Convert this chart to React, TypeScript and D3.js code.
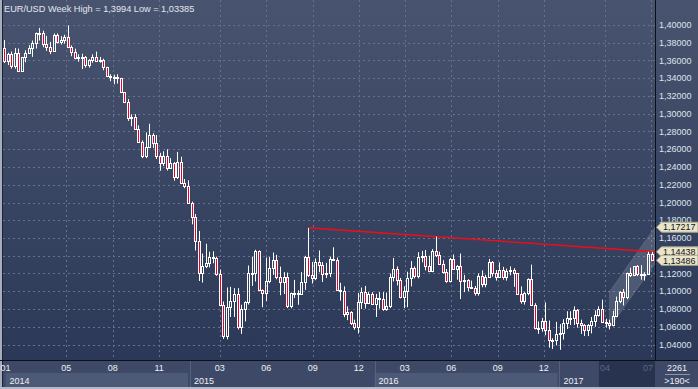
import * as d3 from 'd3'

// weekly EUR/USD candles, [open, high, low, close], first week starts 2013-12-30
const START = new Date(2013, 11, 30)

const candles2014 = [
  [1.3743, 1.383, 1.3573, 1.359], [1.359, 1.3687, 1.3549, 1.3669], [1.3669, 1.37, 1.3508, 1.3542],
  [1.3542, 1.374, 1.3508, 1.368], [1.368, 1.3735, 1.3478, 1.3486], [1.3486, 1.364, 1.3477, 1.3635],
  [1.3635, 1.3715, 1.358, 1.369], [1.369, 1.3773, 1.3685, 1.374], [1.374, 1.3825, 1.3641, 1.3802],
  [1.3802, 1.3915, 1.3735, 1.391], [1.391, 1.3967, 1.3825, 1.3913], [1.3913, 1.3936, 1.375, 1.3785],
  [1.3785, 1.3877, 1.3707, 1.375], [1.375, 1.381, 1.3672, 1.3705], [1.3705, 1.3905, 1.37, 1.3885],
  [1.3885, 1.3905, 1.3792, 1.381], [1.381, 1.3875, 1.378, 1.383], [1.383, 1.389, 1.379, 1.387],
  [1.387, 1.3994, 1.374, 1.3757], [1.3757, 1.377, 1.3648, 1.3695], [1.3695, 1.3733, 1.3614, 1.363],
  [1.363, 1.367, 1.3586, 1.3635], [1.3635, 1.3676, 1.3503, 1.364], [1.364, 1.365, 1.352, 1.3545],
  [1.3545, 1.3615, 1.352, 1.361], [1.361, 1.367, 1.3575, 1.3645], [1.3645, 1.37, 1.3593, 1.3595],
  [1.3595, 1.364, 1.3575, 1.3605], [1.3605, 1.362, 1.349, 1.3525], [1.3525, 1.353, 1.342, 1.343],
  [1.343, 1.3445, 1.3366, 1.3415], [1.3415, 1.344, 1.3333, 1.341], [1.341, 1.3445, 1.334, 1.34],
  [1.34, 1.34, 1.3235, 1.324], [1.324, 1.3245, 1.3125, 1.313], [1.313, 1.3165, 1.292, 1.295],
  [1.295, 1.2995, 1.286, 1.296], [1.296, 1.2995, 1.282, 1.283], [1.283, 1.287, 1.267, 1.2685],
  [1.2685, 1.27, 1.25, 1.2525], [1.2525, 1.279, 1.25, 1.2625], [1.2625, 1.2887, 1.2615, 1.276],
  [1.276, 1.278, 1.2615, 1.267], [1.267, 1.276, 1.249, 1.2525], [1.2525, 1.256, 1.2358, 1.245],
  [1.245, 1.2577, 1.241, 1.2525], [1.2525, 1.26, 1.236, 1.239], [1.239, 1.25, 1.239, 1.245],
  [1.245, 1.2455, 1.2245, 1.229], [1.229, 1.257, 1.2265, 1.246], [1.246, 1.2515, 1.2215, 1.2225],
  [1.2225, 1.2265, 1.216, 1.2185], [1.2185, 1.225, 1.1995, 1.2]
]

const candles2015 = [
  [1.2, 1.201, 1.1754, 1.184], [1.184, 1.187, 1.146, 1.1565], [1.1565, 1.168, 1.1115, 1.1205],
  [1.1205, 1.1425, 1.1098, 1.129], [1.129, 1.1535, 1.126, 1.1315], [1.1315, 1.1445, 1.127, 1.139],
  [1.139, 1.145, 1.1315, 1.138], [1.138, 1.139, 1.1175, 1.1195], [1.1195, 1.1245, 1.0838, 1.084],
  [1.084, 1.0885, 1.0462, 1.0495], [1.0495, 1.1043, 1.0458, 1.082], [1.082, 1.105, 1.071, 1.089],
  [1.089, 1.1035, 1.071, 1.097], [1.097, 1.1035, 1.057, 1.06], [1.06, 1.0848, 1.052, 1.0805],
  [1.0805, 1.0887, 1.066, 1.0875], [1.0875, 1.129, 1.085, 1.12], [1.12, 1.139, 1.106, 1.12],
  [1.12, 1.1467, 1.111, 1.145], [1.145, 1.146, 1.101, 1.1015], [1.1015, 1.102, 1.082, 1.0985],
  [1.0985, 1.138, 1.089, 1.111], [1.111, 1.1385, 1.109, 1.1265], [1.1265, 1.1436, 1.1185, 1.135],
  [1.135, 1.141, 1.1135, 1.1165], [1.1165, 1.1278, 1.0955, 1.1105], [1.1105, 1.1215, 1.0968, 1.116],
  [1.116, 1.121, 1.081, 1.083], [1.083, 1.0985, 1.0808, 1.0985], [1.0985, 1.1128, 1.0925, 1.0985],
  [1.0985, 1.101, 1.0848, 1.0965], [1.0965, 1.1215, 1.096, 1.1105], [1.1105, 1.14, 1.1015, 1.1385],
  [1.1385, 1.1714, 1.116, 1.118], [1.118, 1.133, 1.1087, 1.115], [1.115, 1.137, 1.1125, 1.1335],
  [1.1335, 1.146, 1.1215, 1.1295], [1.1295, 1.133, 1.1105, 1.1195], [1.1195, 1.132, 1.115, 1.121],
  [1.121, 1.139, 1.116, 1.136], [1.136, 1.1495, 1.134, 1.135], [1.135, 1.138, 1.101, 1.1015],
  [1.1015, 1.1095, 1.0895, 1.1005], [1.1005, 1.1055, 1.0708, 1.074], [1.074, 1.083, 1.0675, 1.077],
  [1.077, 1.0775, 1.062, 1.0645], [1.0645, 1.068, 1.0567, 1.0595], [1.0595, 1.0981, 1.0524, 1.088],
  [1.088, 1.1042, 1.08, 1.099], [1.099, 1.106, 1.0805, 1.0865], [1.0865, 1.099, 1.0855, 1.0965],
  [1.0965, 1.099, 1.0855, 1.086]
]

const candles2016 = [
  [1.086, 1.097, 1.071, 1.092], [1.092, 1.099, 1.0805, 1.0915], [1.0915, 1.099, 1.078, 1.0795],
  [1.0795, 1.0985, 1.078, 1.083], [1.083, 1.12, 1.081, 1.1155], [1.1155, 1.1375, 1.111, 1.1255],
  [1.1255, 1.128, 1.1065, 1.113], [1.113, 1.115, 1.092, 1.0935], [1.0935, 1.1055, 1.081, 1.1005],
  [1.1005, 1.122, 1.082, 1.115], [1.115, 1.134, 1.1055, 1.1265], [1.1265, 1.128, 1.1145, 1.117],
  [1.117, 1.144, 1.1145, 1.139], [1.139, 1.1455, 1.1325, 1.1395], [1.1395, 1.1465, 1.1235, 1.1285],
  [1.1285, 1.14, 1.1215, 1.1225], [1.1225, 1.1475, 1.1215, 1.145], [1.145, 1.1616, 1.1385, 1.1405],
  [1.1405, 1.1445, 1.1305, 1.131], [1.131, 1.135, 1.12, 1.122], [1.122, 1.125, 1.1095, 1.1115],
  [1.1115, 1.1375, 1.11, 1.1365], [1.1365, 1.1415, 1.125, 1.1255], [1.1255, 1.1295, 1.113, 1.128],
  [1.128, 1.1425, 1.0912, 1.1115], [1.1115, 1.1185, 1.099, 1.113], [1.113, 1.1135, 1.1, 1.105],
  [1.105, 1.112, 1.103, 1.104], [1.104, 1.106, 1.095, 1.0975], [1.0975, 1.12, 1.095, 1.1175],
  [1.1175, 1.1235, 1.1045, 1.1085], [1.1085, 1.1185, 1.1045, 1.1165], [1.1165, 1.1365, 1.116, 1.1325],
  [1.1325, 1.134, 1.1165, 1.12], [1.12, 1.124, 1.112, 1.1155], [1.1155, 1.1325, 1.115, 1.1235],
  [1.1235, 1.1275, 1.113, 1.1155], [1.1155, 1.1255, 1.112, 1.1225], [1.1225, 1.128, 1.118, 1.124],
  [1.124, 1.126, 1.105, 1.12], [1.12, 1.1205, 1.0965, 1.097], [1.097, 1.1055, 1.086, 1.0885],
  [1.0885, 1.099, 1.085, 1.0985], [1.0985, 1.1145, 1.0955, 1.114], [1.114, 1.13, 1.0845, 1.085],
  [1.085, 1.0865, 1.057, 1.059], [1.059, 1.066, 1.052, 1.059], [1.059, 1.07, 1.0545, 1.0665],
  [1.0665, 1.0875, 1.0505, 1.056], [1.056, 1.067, 1.0365, 1.045], [1.045, 1.047, 1.035, 1.0455],
  [1.0455, 1.0655, 1.039, 1.052]
]

const candles2017 = [
  [1.052, 1.063, 1.0340, 1.053], [1.053, 1.0685, 1.0455, 1.0645], [1.0645, 1.0775, 1.0575, 1.07],
  [1.07, 1.0775, 1.062, 1.0695], [1.0695, 1.083, 1.062, 1.0785], [1.0785, 1.08, 1.059, 1.064],
  [1.064, 1.068, 1.052, 1.0615], [1.0615, 1.063, 1.0495, 1.056], [1.056, 1.063, 1.0495, 1.062],
  [1.062, 1.071, 1.0525, 1.067], [1.067, 1.0785, 1.06, 1.0735], [1.0735, 1.083, 1.0715, 1.08],
  [1.08, 1.0905, 1.0645, 1.065], [1.065, 1.069, 1.059, 1.064], [1.064, 1.068, 1.057, 1.0615],
  [1.0615, 1.078, 1.0605, 1.0725], [1.0725, 1.094, 1.072, 1.0895], [1.0895, 1.1, 1.0865, 1.0995],
  [1.0995, 1.1025, 1.084, 1.093], [1.093, 1.121, 1.091, 1.1205], [1.1205, 1.1265, 1.116, 1.118],
  [1.118, 1.1285, 1.117, 1.128], [1.128, 1.1295, 1.117, 1.1195], [1.1195, 1.1295, 1.113, 1.1195],
  [1.1195, 1.1215, 1.112, 1.1195], [1.1195, 1.1445, 1.1185, 1.1425], [1.1425, 1.1445, 1.1345, 1.13486]
]

const priceTicks = [1.04, 1.06, 1.08, 1.1, 1.12, 1.14, 1.16, 1.18, 1.2, 1.22, 1.24, 1.26, 1.28, 1.3, 1.32, 1.34, 1.36, 1.38, 1.4]
// 1,14000 sits fully under the price tags, so its label is not shown
const hiddenTickLabels = [1.14]
const monthTicks = ['2014-01', '2014-05', '2014-08', '2014-11', '2015-03', '2015-06', '2015-09', '2015-12',
  '2016-03', '2016-06', '2016-09', '2016-12', '2017-04', '2017-07']
const years = ['2014', '2015', '2016', '2017']
const shadedFrom = '2017-03-20'

// resistance line from the Aug 2015 high to the axis value
const trendStart = { date: '2015-08-24', price: 1.1714 }
const trendEndPrice = 1.14438
// rising channel drawn from April 2017
const channelStart = { date: '2017-04-10', lower: 1.059, upper: 1.0995 }
const channelEnd = { lower: 1.131, upper: 1.17217 }
const priceTags = [1.17217, 1.14438, 1.13486]

const W = 698
const H = 389
const AXIS_X = 655
const PLOT_BOTTOM = 360

const parse = d3.timeParse('%Y-%m-%d')
const parseMonth = d3.timeParse('%Y-%m')
const fmt = (v: number, n: number) => v.toFixed(n).replace('.', ',')
const FONT = '"Liberation Sans", Arial, sans-serif'

export default function App() {
  const data = [...candles2014, ...candles2015, ...candles2016, ...candles2017].map((d, i) => ({
    date: d3.timeDay.offset(START, 7 * i), o: d[0], h: d[1], l: d[2], c: d[3]
  }))
  const x = d3.scaleTime()
    .domain([START, data[data.length - 1].date])
    .range([4.5, 652])
  const y = d3.scaleLinear().domain([1.04, 1.4]).range([344.5, 25])

  const tx = (d: Date) => Math.floor(x(d)) + 0.5
  const shadeX = x(parse(shadedFrom)!)

  const tsX = x(parse(trendStart.date)!)
  const chX = x(parse(channelStart.date)!)
  const channel = [
    [chX, y(channelStart.upper)], [AXIS_X, y(channelEnd.upper)],
    [AXIS_X, y(channelEnd.lower)], [chX, y(channelStart.lower)]
  ]

  const yearStarts = years.map(yr => Math.max(5, x(new Date(+yr, 0, 1))))

  return (
    <div style={{ position: 'absolute', left: 0, top: 0 }}>
      <svg width={W} height={H} style={{ display: 'block', fontFamily: FONT }}>
        <defs>
          <linearGradient id="bg" x1="0" y1="0" x2="0" y2="1">
            <stop offset="0" stopColor="#48546f" />
            <stop offset="1" stopColor="#2b3857" />
          </linearGradient>
        </defs>
        <rect x={0} y={0} width={W} height={PLOT_BOTTOM} fill="url(#bg)" />

        {/* grid */}
        {priceTicks.map(v => (
          <line key={v} x1={3} x2={AXIS_X} y1={Math.round(y(v)) + 0.5} y2={Math.round(y(v)) + 0.5}
            stroke="#65728f" strokeDasharray="2,3" />
        ))}
        {monthTicks.slice(1).map(m => {
          const gx = Math.round(x(parseMonth(m)!)) + 0.5
          return <line key={m} x1={gx} x2={gx} y1={0} y2={PLOT_BOTTOM} stroke="#65728f" strokeDasharray="2,3" />
        })}

        {/* channel */}
        <polygon points={channel.map(p => p.join(',')).join(' ')} fill="rgba(255,255,255,0.14)"
          stroke="rgba(255,255,255,0.12)" />

        {/* trend line */}
        <line x1={tsX} y1={y(trendStart.price)} x2={AXIS_X} y2={y(trendEndPrice)} stroke="#e3101e" strokeWidth={1.6} />

        {/* candles */}
        {data.map((d, i) => {
          const cx = tx(d.date)
          const top = Math.round(y(Math.max(d.o, d.c))) + 0.5
          const bot = Math.max(top + 1, Math.round(y(Math.min(d.o, d.c))) + 0.5)
          const down = d.c < d.o
          return (
            <g key={i}>
              <line x1={cx} x2={cx} y1={y(d.h)} y2={top} stroke="#fff" />
              <line x1={cx} x2={cx} y1={bot} y2={y(d.l)} stroke="#fff" />
              <rect x={cx - 1} y={top} width={2} height={bot - top} fill={down ? '#e8002c' : 'none'} stroke="#fff" />
            </g>
          )
        })}

        <text x={4} y={12} fontSize={9.2} fill="#e4e7ee">EUR/USD Week High = 1,3994 Low = 1,03385</text>

        {/* left border */}
        <rect x={0} y={0} width={2} height={H} fill="#a7aebb" />
        <line x1={2.5} x2={2.5} y1={0} y2={387} stroke="#1c2334" />

        {/* right axis */}
        <line x1={AXIS_X + 0.5} x2={AXIS_X + 0.5} y1={0} y2={387} stroke="#0d0f16" />
        {priceTicks.filter(v => !hiddenTickLabels.includes(v)).map(v => (
          <text key={v} x={659} y={y(v) + 3.2} fontSize={9} fill="#dfe3ec">{fmt(v, 5)}</text>
        ))}
        {priceTags.map(v => {
          const cy = y(v)
          return (
            <g key={v}>
              <path d={`M${AXIS_X + 1.5},${cy} L${AXIS_X + 6.5},${cy - 5} H${W} V${cy + 5} H${AXIS_X + 6.5} Z`}
                fill="#e9e5cb" stroke="#a9a58c" />
              <text x={663} y={cy + 3.3} fontSize={9} fill="#141414">{fmt(v, 5)}</text>
            </g>
          )
        })}

        {/* time axis */}
        <rect x={3} y={PLOT_BOTTOM} width={AXIS_X - 3} height={27} fill="#3d4966" />
        <rect x={AXIS_X} y={PLOT_BOTTOM} width={W - AXIS_X} height={27} fill="#3d4966" />
        {years.map((yr, i) => {
          const x0 = yearStarts[i]
          const x1 = i < years.length - 1 ? yearStarts[i + 1] : AXIS_X
          return (
            <g key={yr}>
              {i % 2 === 0 && <rect x={x0} y={373} width={x1 - x0 - 2} height={14} fill="#4d5a77" />}
              {i > 0 && <line x1={Math.round(x0) + 0.5} x2={Math.round(x0) + 0.5} y1={PLOT_BOTTOM} y2={387} stroke="#55627e" />}
              <text x={x0 + 4} y={384} fontSize={9} fill="#eef0f5">{yr}</text>
            </g>
          )
        })}
        <rect x={shadeX} y={PLOT_BOTTOM + 1} width={AXIS_X - shadeX} height={26} fill="#283350" />
        {monthTicks.map(m => {
          const d = parseMonth(m)!
          const mx = Math.min(648, x(d))
          return (
            <text key={m} x={mx} y={371} fontSize={9} textAnchor="middle"
              fill={x(d) > shadeX ? '#5c6782' : '#eef0f5'}>{m.slice(5)}</text>
          )
        })}
        <line x1={0} x2={W} y1={PLOT_BOTTOM + 0.5} y2={PLOT_BOTTOM + 0.5} stroke="#0d0f16" />
        <text x={677} y={371} fontSize={9} textAnchor="middle" fill="#eef0f5">2261</text>
        <line x1={665} x2={690} y1={374.5} y2={374.5} stroke="#8c95aa" />
        <text x={677} y={384} fontSize={9} textAnchor="middle" fill="#eef0f5">&gt;190&lt;</text>
        <rect x={0} y={387} width={W} height={2} fill="#b3b9c6" />
      </svg>
    </div>
  )
}
